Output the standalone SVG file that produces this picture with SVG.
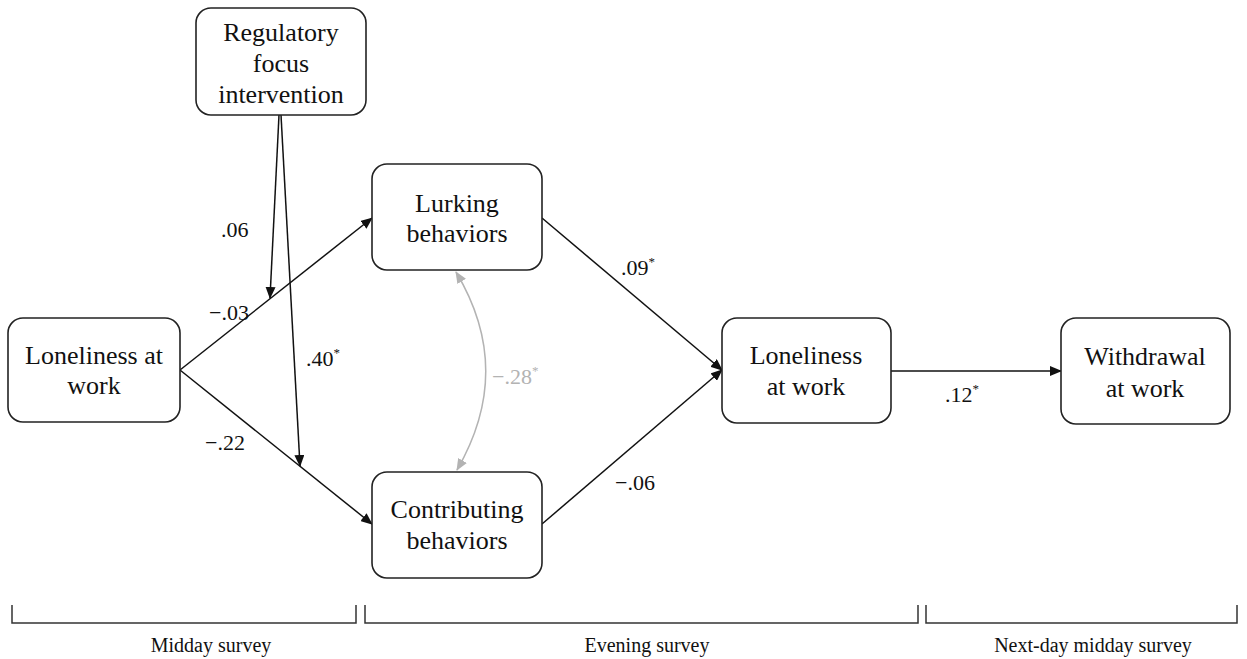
<svg xmlns="http://www.w3.org/2000/svg" width="1247" height="659" viewBox="0 0 1247 659">
<style>
.box{fill:#fff;stroke:#222;stroke-width:1.6}
.t{font-family:"Liberation Serif","Times New Roman",serif;font-size:26px;fill:#111;text-anchor:middle}
.lbl{font-family:"Liberation Serif","Times New Roman",serif;font-size:22px;fill:#111}
.sup{font-size:13px}
.ln{stroke:#111;stroke-width:1.5;fill:none}
.gray{stroke:#b3b3b3;stroke-width:1.5;fill:none}
.br{stroke:#333;stroke-width:1.5;fill:none}
.bt{font-family:"Liberation Serif","Times New Roman",serif;font-size:20px;fill:#111;text-anchor:middle}
</style>
<defs>
<marker id="ah" markerWidth="12" markerHeight="10" refX="11" refY="5" orient="auto" markerUnits="userSpaceOnUse">
<path d="M0,0 L12,5 L0,10 Z" fill="#111"/>
</marker>
<marker id="ahg" markerWidth="12" markerHeight="10" refX="11" refY="5" orient="auto-start-reverse" markerUnits="userSpaceOnUse">
<path d="M0,0 L12,5 L0,10 Z" fill="#b3b3b3"/>
</marker>
</defs>
<rect width="1247" height="659" fill="#fff"/>
<g id="connectors">
<line class="ln" x1="180" y1="370" x2="372" y2="218" marker-end="url(#ah)"/>
<line class="ln" x1="180" y1="370" x2="372" y2="524" marker-end="url(#ah)"/>
<line class="ln" x1="279" y1="115" x2="270" y2="298" marker-end="url(#ah)"/>
<line class="ln" x1="281" y1="115" x2="300" y2="466" marker-end="url(#ah)"/>
<line class="ln" x1="542" y1="218" x2="722" y2="370" marker-end="url(#ah)"/>
<line class="ln" x1="542" y1="524" x2="722" y2="370" marker-end="url(#ah)"/>
<line class="ln" x1="891" y1="371" x2="1061" y2="371" marker-end="url(#ah)"/>
<path class="gray" d="M456,272 Q515,370 457,470" marker-start="url(#ahg)" marker-end="url(#ahg)"/>
<text class="lbl" x="221" y="237">.06</text>
<text class="lbl" x="209" y="320">−.03</text>
<text class="lbl" x="306" y="366">.40<tspan class="sup" dy="-9">*</tspan></text>
<text class="lbl" x="205" y="450">−.22</text>
<text class="lbl" x="621" y="275">.09<tspan class="sup" dy="-9">*</tspan></text>
<text class="lbl" x="615" y="490">−.06</text>
<text class="lbl" x="492" y="384" style="fill:#b3b3b3">−.28<tspan class="sup" dy="-9">*</tspan></text>
<text class="lbl" x="945" y="402">.12<tspan class="sup" dy="-9">*</tspan></text>
</g>
<g id="regulatory">
<rect class="box" x="196" y="8" width="170" height="107" rx="15"/>
<text class="t" x="281" y="41">Regulatory</text>
<text class="t" x="281" y="72">focus</text>
<text class="t" x="281" y="103">intervention</text>
</g>
<g id="loneliness1">
<rect class="box" x="8" y="318" width="172" height="104" rx="15"/>
<text class="t" x="94" y="364">Loneliness at</text>
<text class="t" x="94" y="394">work</text>
</g>
<g id="lurking">
<rect class="box" x="372" y="164" width="170" height="106" rx="15"/>
<text class="t" x="457" y="212">Lurking</text>
<text class="t" x="457" y="242">behaviors</text>
</g>
<g id="contributing">
<rect class="box" x="372" y="472" width="170" height="106" rx="15"/>
<text class="t" x="457" y="518">Contributing</text>
<text class="t" x="457" y="549">behaviors</text>
</g>
<g id="loneliness2">
<rect class="box" x="722" y="318" width="169" height="105" rx="15"/>
<text class="t" x="806" y="364">Loneliness</text>
<text class="t" x="806" y="395">at work</text>
</g>
<g id="withdrawal">
<rect class="box" x="1061" y="318" width="169" height="106" rx="15"/>
<text class="t" x="1145" y="365">Withdrawal</text>
<text class="t" x="1145" y="397">at work</text>
</g>
<g id="timeline">
<path class="br" d="M12,605 V623 H356 V605"/>
<path class="br" d="M365,605 V623 H918 V605"/>
<path class="br" d="M926,605 V623 H1237 V605"/>
<text class="bt" x="211" y="652">Midday survey</text>
<text class="bt" x="647" y="652">Evening survey</text>
<text class="bt" x="1093" y="652">Next-day midday survey</text>
</g>
</svg>
